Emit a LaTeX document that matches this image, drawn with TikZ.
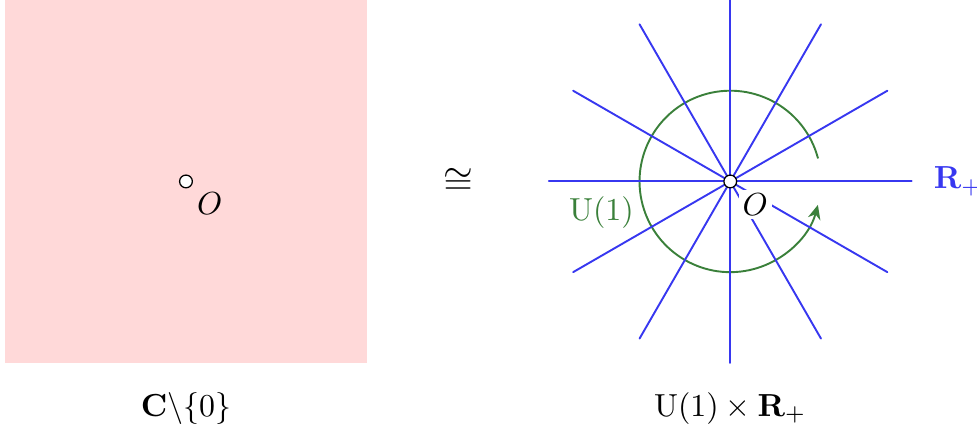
\documentclass[tikz,border=0pt]{standalone}
\usepackage{amsmath,amssymb}
\usetikzlibrary{positioning,calc,arrows.meta}
\definecolor{raycol}{RGB}{55,55,240}
\definecolor{loopcol}{RGB}{58,128,58}
\begin{document}
\begin{tikzpicture}[>={Stealth[length=4.5pt,width=4pt]}, line join=round, line cap=round,
	ray/.style={raycol, semithick},
	loop/.style={loopcol, semithick},
	dot/.style={draw, fill=white, circle, inner sep=0pt, minimum size=4pt}]
	\def\r{2} \def\rr{1} % ray length, loop radius
	\useasboundingbox (-2.05,-2.76) rectangle (8.72,2);
	% left: punctured plane
	\fill[red!15] (-2,-2) rectangle (2,2);
	\node[dot] (oL) at (0,0) {};
	\node[below right] (labL) at (0,0) {$O$};
	\node (plane) at (0,-2.5) {$\mathbf{C}\backslash\{0\}$};
	% iso
	\node (iso) at (3,0) {\large$\cong$};
	% right: rays and loop
	\coordinate (c) at (6,0);
	\draw[loop,->] ($(c)+(15:\rr)$) arc (15:345:\rr);
	\foreach \t in {0,30,...,330} \draw[ray] (c) -- ++(\t:\r) coordinate (e\t);
	\node[loopcol] (uone) at ($(c)+(200:\rr)$) [left] {U(1)};
	\node[raycol, right=0.12cm of e0] (rplus) {$\mathbf{R}_+$};
	\node[below right=2.5pt and 2.5pt of c, fill=white, inner sep=1.2pt] (labR) {$O$};
	\node[dot] (oR) at (c) {};
	\node (prod) at (6,-2.5) {$\mathrm{U}(1)\times\mathbf{R}_+$};
\end{tikzpicture}
\end{document}
